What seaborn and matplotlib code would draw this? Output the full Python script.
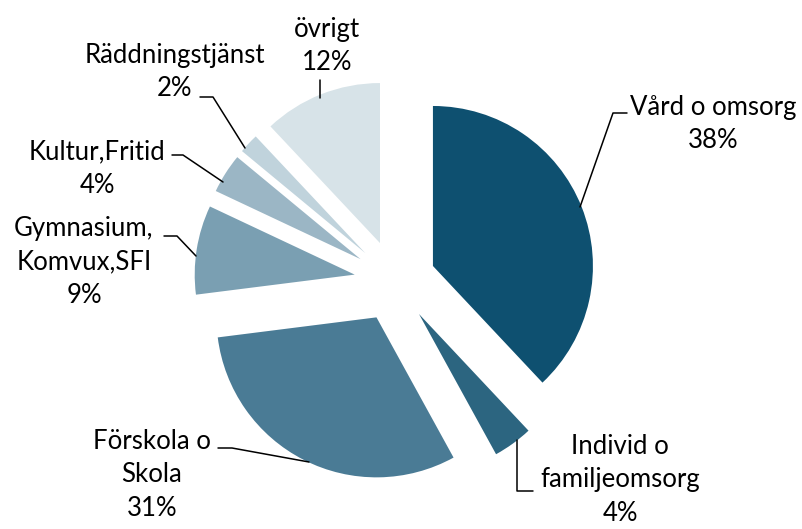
import matplotlib
matplotlib.use("Agg")
import matplotlib.pyplot as plt
import seaborn as sns

# data
categories = ["Vård o omsorg", "Individ o\nfamiljeomsorg", "Förskola o\nSkola",
              "Gymnasium,\nKomvux,SFI", "Kultur,Fritid", "Räddningstjänst", "övrigt"]
shares = [38, 4, 31, 9, 4, 2, 12]
colors = ["#0E5070", "#2C6580", "#4A7B95", "#7A9FB2", "#9BB6C5", "#C0D3DC", "#D7E3E8"]

sns.set_style("white")
plt.rcParams['font.family'] = ['Lato', 'DejaVu Sans']

W, H = 803, 529
cx, cy, R = 395, 281, 160  # pie centre / radius in pixels


def to_data(px, py):
    return (px - cx) / R, (cy - py) / R


fig = plt.figure(figsize=(W / 100, H / 100), dpi=100)
ax = fig.add_axes([0, 0, 1, 1])

ax.pie(shares, colors=colors, startangle=90, counterclock=False,
       explode=[0.255] * len(shares), radius=1,
       wedgeprops=dict(linewidth=0))

# label layout in pixels: text centre, leader line points
layout = [
    ((713, 124), [(580, 207), (613, 113), (627, 113)]),
    ((620, 480), [(517, 440), (517, 491), (533, 491)]),
    ((152, 475), [(309, 462), (232, 448), (218, 448)]),
    ((84, 262), [(196, 256), (177, 236), (164, 236)]),
    ((97, 169), [(223, 182), (183, 155), (172, 155)]),
    ((175, 72), [(245, 148), (213, 97), (200, 97)]),
    ((327, 46), [(320, 98), (320, 80)]),
]

for name, val, (tpos, line) in zip(categories, shares, layout):
    tx, ty = to_data(*tpos)
    ax.text(tx, ty, f"{name}\n{val}%", ha="center", va="center",
            fontsize=18.5, color="black", linespacing=1.42)
    pts = [to_data(*p) for p in line]
    ax.plot([p[0] for p in pts], [p[1] for p in pts], color="black", lw=1.1)

ax.set_xlim(-cx / R, (W - cx) / R)
ax.set_ylim(-(H - cy) / R, cy / R)
ax.set_aspect("equal", adjustable="box")
ax.axis("off")

fig.savefig("out.png", dpi=100)
